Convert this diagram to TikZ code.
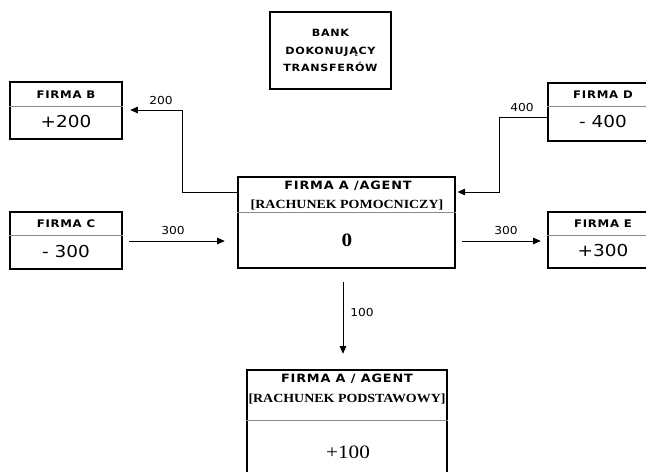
\documentclass[tikz,border=0pt]{standalone}
\usepackage{fontspec}
\usetikzlibrary{arrows.meta,calc}
% slightly widened faces, as used throughout the scheme
\newfontfamily\plainsans[FakeStretch=1.12]{DejaVu Sans}
\newfontfamily\spacedsans[FakeStretch=1.12,LetterSpace=7]{DejaVu Sans}
\newfontfamily\plainserif[FakeStretch=1.12]{Liberation Serif}
\begin{document}
\begin{tikzpicture}[x=1bp,y=-1bp,
  acct/.style={draw, line width=2.6bp, inner sep=0pt, minimum width=112bp, minimum height=57bp},
  divider/.style={draw=black!45, line width=0.8bp},
  flow/.style={line width=0.9bp, -{Triangle[length=7.5bp,width=6.5bp]}},
  head/.style={inner sep=0pt, font=\spacedsans\bfseries\fontsize{10.5}{11}\selectfont},
  amount/.style={inner sep=0pt, font=\plainsans\fontsize{16.5}{17}\selectfont},
  qty/.style={inner sep=0pt, font=\plainsans\fontsize{11}{12}\selectfont},
  mainhead/.style={inner sep=0pt, font=\spacedsans\bfseries\fontsize{11.5}{12}\selectfont},
  mainsub/.style={inner sep=0pt, font=\plainserif\bfseries\fontsize{12.5}{13}\selectfont},
]
\fill[white] (0,0) rectangle (646,472);
\useasboundingbox (0,0) rectangle (646,472);
\clip (0,0) rectangle (646,472);

% settlement bank
\node[acct, minimum width=121bp, minimum height=77bp, align=center,
      font=\spacedsans\bfseries\fontsize{10}{18}\selectfont] (bank) at (330.5,50.5)
  {BANK\\DOKONUJĄCY\\TRANSFERÓW};

% counterparties
\node[acct] (firmaB) at (66,110.5) {};
\node[acct] (firmaC) at (66,240.5) {};
\node[acct, minimum height=58bp] (firmaD) at (604,112) {};
\node[acct, minimum height=56bp] (firmaE) at (604,240) {};

\coordinate (divBD) at (0,106);
\coordinate (divCE) at (0,235);
\draw[divider] (firmaB.west |- divBD) -- (firmaB.east |- divBD);
\draw[divider] (firmaD.west |- divBD) -- (firmaD.east |- divBD);
\draw[divider] (firmaC.west |- divCE) -- (firmaC.east |- divCE);
\draw[divider] (firmaE.west |- divCE) -- (firmaE.east |- divCE);

\node[head]   (hB) at (66,94.5)  {FIRMA B};
\node[amount] (vB) at (66,121.5) {+200};
\node[head]   (hC) at (66,224)   {FIRMA C};
\node[amount] (vC) at (66,251.5) {- 300};
\node[head]   (hD) at (603,95)   {FIRMA D};
\node[amount] (vD) at (603,121.5){- 400};
\node[head]   (hE) at (603,224)  {FIRMA E};
\node[amount] (vE) at (603,251)  {+300};

% agent: auxiliary account
\node[acct, minimum width=217bp, minimum height=91bp] (aux) at (346.5,222.5) {};
\coordinate (divAux) at (0,212);
\draw[divider] (aux.west |- divAux) -- (aux.east |- divAux);
\node[mainhead] (auxh1) at (348,186) {FIRMA A /AGENT};
\node[mainsub]  (auxh2) at (347,205) {[RACHUNEK POMOCNICZY]};
\node[inner sep=0pt, font=\plainserif\bfseries\fontsize{19}{20}\selectfont] (auxv) at (347,240) {0};

% agent: main account
\node[acct, minimum width=200bp, minimum height=110bp] (main) at (347,425) {};
\coordinate (divMain) at (0,420);
\draw[divider] (main.west |- divMain) -- (main.east |- divMain);
\node[mainhead] (mainh1) at (347,379) {FIRMA A / AGENT};
\node[mainsub]  (mainh2) at (347,399) {[RACHUNEK PODSTAWOWY]};
\node[inner sep=0pt, font=\plainserif\fontsize{19}{20}\selectfont] (mainv) at (348,452) {+100};

% transfers
\coordinate (bendB1) at (182,192);
\coordinate (bendB2) at (182,110);
\draw[flow, shorten >=7bp] (aux.west |- bendB1) -- (bendB1) -- (bendB2) -- (firmaB.east |- bendB2);
\node[qty] (q200) at (161,101) {200};

\coordinate (bendD1) at (499,117);
\coordinate (bendD2) at (499,192);
\draw[flow, shorten >=1.3bp] (firmaD.west |- bendD1) -- (bendD1) -- (bendD2) -- (aux.east |- bendD2);
\node[qty] (q400) at (522,108) {400};

\coordinate (rowC) at (0,241);
\draw[flow, shorten <=6bp, shorten >=12bp] (firmaC.east |- rowC) -- (aux.west |- rowC);
\node[qty] (q300a) at (173,231) {300};

\draw[flow, shorten <=6bp, shorten >=6bp] (aux.east |- rowC) -- (firmaE.west |- rowC);
\node[qty] (q300b) at (506,231) {300};

\coordinate (colDown) at (343,0);
\draw[flow, shorten <=13bp, shorten >=15bp] (aux.south -| colDown) -- (main.north -| colDown);
\node[qty] (q100) at (362,313) {100};
\end{tikzpicture}
\end{document}
